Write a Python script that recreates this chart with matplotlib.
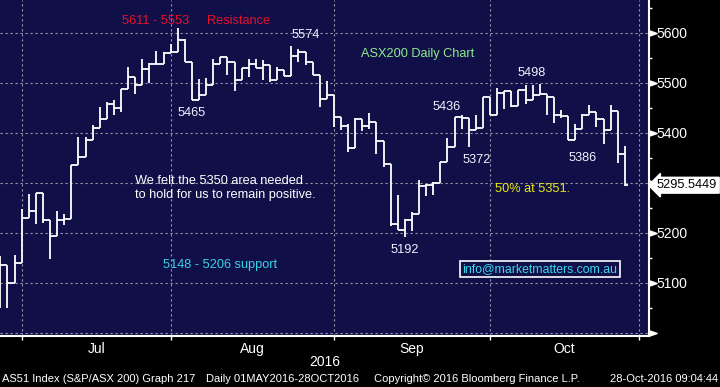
import numpy as np
import matplotlib
matplotlib.use("Agg")
import matplotlib.pyplot as plt
from matplotlib.path import Path

plt.rcParams['font.family'] = ['Liberation Sans', 'DejaVu Sans']

# daily bars, 28 Jun 2016 .. 28 Oct 2016 (trading days)
opens = [5060, 5136, 5101, 5141, 5231, 5245, 5281, 5226, 5195, 5227,
         5229, 5337, 5353, 5387, 5411, 5429, 5458, 5451, 5489, 5513,
         5497, 5528, 5538, 5539, 5561, 5563, 5587, 5543, 5466, 5476,
         5497, 5538, 5553, 5543, 5507, 5531, 5539, 5531, 5537, 5507,
         5527, 5514, 5554, 5563, 5543, 5516, 5469, 5477, 5433, 5415,
         5371, 5429, 5414, 5423, 5385, 5339, 5219, 5207, 5227, 5239,
         5295, 5296, 5300, 5343, 5373, 5433, 5431, 5406, 5411, 5473,
         5436, 5481, 5484, 5454, 5486, 5467, 5476, 5479, 5473, 5437,
         5434, 5387, 5409, 5436, 5443, 5429, 5407, 5445, 5359]
highs = [5154, 5136, 5156, 5249, 5278, 5281, 5281, 5227, 5244, 5238,
         5337, 5392, 5392, 5416, 5452, 5462, 5466, 5489, 5533, 5513,
         5549, 5540, 5565, 5563, 5579, 5611, 5589, 5543, 5509, 5511,
         5549, 5553, 5553, 5543, 5531, 5549, 5549, 5546, 5537, 5533,
         5527, 5574, 5569, 5563, 5543, 5517, 5504, 5477, 5433, 5419,
         5431, 5429, 5441, 5423, 5385, 5339, 5276, 5229, 5243, 5306,
         5299, 5303, 5343, 5391, 5433, 5436, 5431, 5436, 5473, 5473,
         5491, 5484, 5484, 5486, 5496, 5496, 5498, 5479, 5473, 5447,
         5434, 5419, 5439, 5457, 5443, 5429, 5457, 5445, 5374]
lows = [5051, 5051, 5101, 5141, 5231, 5219, 5221, 5149, 5195, 5217,
        5229, 5337, 5353, 5387, 5411, 5429, 5436, 5443, 5489, 5478,
        5497, 5500, 5538, 5539, 5561, 5563, 5543, 5466, 5466, 5476,
        5497, 5538, 5516, 5485, 5507, 5513, 5531, 5507, 5503, 5506,
        5514, 5514, 5543, 5536, 5516, 5453, 5469, 5413, 5406, 5363,
        5371, 5405, 5409, 5358, 5333, 5215, 5207, 5192, 5205, 5239,
        5274, 5276, 5300, 5343, 5373, 5409, 5372, 5406, 5411, 5436,
        5436, 5449, 5453, 5454, 5459, 5467, 5476, 5436, 5421, 5431,
        5386, 5387, 5409, 5436, 5413, 5379, 5407, 5341, 5295]
closes = [5136, 5101, 5141, 5231, 5245, 5281, 5226, 5195, 5227, 5229,
          5337, 5353, 5387, 5411, 5429, 5458, 5451, 5489, 5513, 5497,
          5528, 5538, 5539, 5561, 5563, 5587, 5543, 5466, 5476, 5497,
          5538, 5553, 5543, 5507, 5531, 5539, 5531, 5537, 5507, 5527,
          5514, 5554, 5563, 5543, 5516, 5469, 5477, 5433, 5415, 5371,
          5429, 5414, 5423, 5385, 5339, 5219, 5207, 5227, 5239, 5295,
          5296, 5300, 5343, 5373, 5433, 5431, 5406, 5411, 5473, 5436,
          5481, 5484, 5454, 5486, 5467, 5476, 5479, 5473, 5437, 5434,
          5387, 5409, 5436, 5443, 5429, 5407, 5445, 5359, 5295.5449]

# index of first trading day of each month (Jul, Aug, Sep, Oct, Nov)
month_starts = [3, 24, 47, 69, 90]
month_names = ['Jul', 'Aug', 'Sep', 'Oct']

y_ticks = [5000, 5100, 5200, 5300, 5400, 5500, 5600]
y_labels = ['', '5100', '5200', '', '5400', '5500', '5600']

# point labels: (text, bar index, value, dx px, dy px)
point_labels = [('5574', 41, 5574, 14, 11),
                ('5465', 27, 5466, 0, -13),
                ('5498', 76, 5498, -8, 11),
                ('5436', 65, 5436, -15, 8),
                ('5372', 66, 5372, 8, -13),
                ('5386', 80, 5386, 14, -18),
                ('5192', 57, 5192, 0, -13)]

navy = '#100f48'
fig = plt.figure(figsize=(7.2, 3.87), dpi=100, facecolor='black')
ax = fig.add_axes([0, 1 - 336 / 387, 649 / 720, 336 / 387])
ax.set_facecolor(navy)

x = np.arange(len(closes))
ax.vlines(x, lows, highs, color='white', lw=1.3, zorder=3)
ax.hlines(opens, x - 0.5, x, color='white', lw=1.3, zorder=3)
ax.hlines(closes, x, x + 0.5, color='white', lw=1.3, zorder=3)

ax.set_xlim(-0.05, 91.4)
ax.set_ylim(4994, 5666)

for s in ['left', 'top']:
    ax.spines[s].set_visible(False)
for s in ['right', 'bottom']:
    ax.spines[s].set_color('white')
    ax.spines[s].set_linewidth(1.5)

# x axis: ticks at month starts, names mid-month
ax.set_xticks(month_starts)
ax.set_xticklabels([''] * len(month_starts))
mids = [(month_starts[i] + month_starts[i + 1]) / 2 for i in range(len(month_names))]
ax.set_xticks(mids, minor=True)
ax.set_xticklabels(month_names, minor=True)
ax.tick_params(axis='x', which='major', length=3, width=1, color='white')
ax.tick_params(axis='x', which='minor', length=0, pad=4, labelsize=10, labelcolor='white')

# y axis on the right
ax.yaxis.tick_right()
ax.set_yticks(y_ticks)
ax.set_yticklabels(y_labels)
ax.set_yticks([v + 50 for v in y_ticks], minor=True)
ax.tick_params(axis='y', which='major', length=0, pad=5, labelsize=10, labelcolor='white')
ax.tick_params(axis='y', which='minor', length=2.5, width=1, color='white', direction='out')

tri = Path([(0, -0.35), (1, 0), (0, 0.35), (0, -0.35)],
           [Path.MOVETO, Path.LINETO, Path.LINETO, Path.CLOSEPOLY])
ax.plot(np.ones(len(y_ticks)), y_ticks, ls='none', marker=tri, ms=11, color='white',
        transform=ax.get_yaxis_transform(), clip_on=False, zorder=5)

ax.grid(True, color='#9a9aa6', ls=(0, (2, 2.5)), lw=0.8)
ax.set_axisbelow(True)

# last price tag
ax.annotate('5295.5449', xy=(1.0, closes[-1]), xycoords=ax.get_yaxis_transform(),
            xytext=(8, 0), textcoords='offset pixels', ha='left', va='center',
            fontsize=9.2, color='black', annotation_clip=False, zorder=6,
            bbox=dict(boxstyle='larrow,pad=0.15', fc='white', ec='white'))

for txt, i, v, dx, dy in point_labels:
    ax.annotate(txt, xy=(i, v), xytext=(dx, dy), textcoords='offset pixels',
                ha='center', va='center', fontsize=9.2, color='#f2f2ff')

fs = 9.2
ax.text(0.2404, 0.9375, '5611 - 5553', transform=ax.transAxes, ha='center', va='center',
        fontsize=fs, color='#e8102a')
ax.text(0.319, 0.9375, 'Resistance', transform=ax.transAxes, ha='left', va='center',
        fontsize=fs, color='#e8102a')
ax.text(0.644, 0.839, 'ASX200 Daily Chart', transform=ax.transAxes, ha='center', va='center',
        fontsize=fs, color='#8fea8f')
ax.text(0.208, 0.440, 'We felt the 5350 area needed\nto hold for us to remain positive.',
        transform=ax.transAxes, ha='left', va='center', fontsize=fs, color='white',
        linespacing=1.25)
ax.text(0.821, 0.4375, '50% at 5351.', transform=ax.transAxes, ha='center', va='center',
        fontsize=fs, color='#e8e810')
ax.text(0.339, 0.2113, '5148 - 5206 support', transform=ax.transAxes, ha='center', va='center',
        fontsize=fs, color='#3cd2e6')
ax.text(0.832, 0.1994, 'info@marketmatters.com.au', transform=ax.transAxes, ha='center',
        va='center', fontsize=8.8, color='#3cd8f0',
        bbox=dict(boxstyle='square,pad=0.2', fc=navy, ec='white', lw=1.2))

# footer
fig.text(325 / 720, 1 - 362 / 387, '2016', ha='center', va='center', fontsize=10, color='white')
fy = 1 - 379 / 387
fig.text(2 / 720, fy, 'AS51 Index (S&P/ASX 200) Graph 217', ha='left', va='center',
         fontsize=8, color='white')
fig.text(206 / 720, fy, 'Daily 01MAY2016-28OCT2016', ha='left', va='center',
         fontsize=8, color='white')
fig.text(374 / 720, fy, 'Copyright\u00a9 2016 Bloomberg Finance L.P.', ha='left', va='center',
         fontsize=8, color='white')
fig.text(718 / 720, fy, '28-Oct-2016 09:04:44', ha='right', va='center',
         fontsize=8, color='white')

fig.savefig('out.png', dpi=100, facecolor='black')
